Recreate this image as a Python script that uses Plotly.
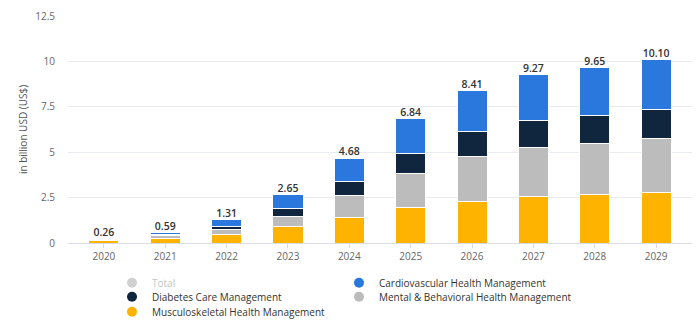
import plotly.graph_objects as go

years = ["2020", "2021", "2022", "2023", "2024", "2025", "2026", "2027", "2028", "2029"]
totals = [0.26, 0.59, 1.31, 2.65, 4.68, 6.84, 8.41, 9.27, 9.65, 10.10]
musculoskeletal = [0.12, 0.27, 0.49, 0.91, 1.41, 1.93, 2.31, 2.55, 2.66, 2.80]
mental = [0.05, 0.12, 0.24, 0.54, 1.19, 1.92, 2.44, 2.71, 2.80, 2.94]
diabetes = [0.03, 0.07, 0.20, 0.44, 0.79, 1.10, 1.39, 1.51, 1.58, 1.63]
cardio = [0.06, 0.13, 0.38, 0.76, 1.29, 1.89, 2.27, 2.50, 2.61, 2.73]
y_ticks = [0, 2.5, 5, 7.5, 10, 12.5]
y_tick_labels = ["0", "2.5", "5", "7.5", "10", "12.5"]

C_BLUE = "#2a78de"
C_NAVY = "#10263f"
C_GRAY = "#bcbcbc"
C_YELLOW = "#feb300"
C_TOTAL = "#d0d0d0"

FONT = "Open Sans"

fig = go.Figure()

series = [
    ("Musculoskeletal Health Management", musculoskeletal, C_YELLOW),
    ("Mental & Behavioral Health Management", mental, C_GRAY),
    ("Diabetes Care Management", diabetes, C_NAVY),
    ("Cardiovascular Health Management", cardio, C_BLUE),
]

for name, vals, col in series:
    fig.add_trace(go.Bar(
        x=years, y=vals, name=name, marker=dict(color=col, line=dict(color="white", width=1)),
        showlegend=False, legendgroup=name, hovertemplate="%{x}: %{y:.2f}<extra>" + name + "</extra>",
    ))

# total labels
fig.add_trace(go.Scatter(
    x=years, y=totals, mode="text", text=[f"{v:.2f}" for v in totals],
    textposition="top center", showlegend=False, hoverinfo="skip",
    textfont=dict(family=FONT, size=10.5, color="#333333", weight=600),
))

# legend entries (circle markers), one legend box per entry
# (name, colour, legend id, group, left px of text, row centre px)
legend_items = [
    ("<span style='color:#c4c4c4'>Total</span>", C_TOTAL, "legend", "Total", 150, 282.7),
    ("Cardiovascular Health Management", C_BLUE, "legend2", "Cardiovascular Health Management", 377, 282.7),
    ("Diabetes Care Management", C_NAVY, "legend3", "Diabetes Care Management", 150, 296.7),
    ("Mental & Behavioral Health Management", C_GRAY, "legend4", "Mental & Behavioral Health Management", 377, 296.7),
    ("Musculoskeletal Health Management", C_YELLOW, "legend5", "Musculoskeletal Health Management", 150, 311.7),
]
legend_layout = {}
for name, col, lg, grp, tx, ty in legend_items:
    fig.add_trace(go.Scatter(
        x=[None], y=[None], mode="markers", name=name, legend=lg, legendgroup=grp,
        marker=dict(color=col, size=10, symbol="circle"), hoverinfo="skip",
    ))
    legend_layout[lg] = dict(
        orientation="h", xref="container", yref="container", xanchor="left", yanchor="middle",
        x=(tx - 38) / 700, y=1 - ty / 328,
        font=dict(family=FONT, size=10, color="#333333"),
        bgcolor="rgba(0,0,0,0)", itemclick=False, itemdoubleclick=False,
    )

fig.update_layout(
    width=700, height=328,
    margin=dict(l=68, r=8, t=16, b=85, autoexpand=False),
    paper_bgcolor="white", plot_bgcolor="white",
    barmode="stack", bargap=0.51,
    font=dict(family=FONT, color="#666666", size=10),
    xaxis=dict(
        type="category", range=[-0.585, 9.585], showgrid=False,
        showline=True, linecolor="#d9dde3", linewidth=1,
        ticks="outside", ticklen=4, tickcolor="#d9dde3",
        tickfont=dict(family=FONT, size=10, color="#666666"),
    ),
    yaxis=dict(
        range=[0, 12.5], tickvals=y_ticks, ticktext=y_tick_labels,
        showgrid=True, gridcolor="#e8ebef", gridwidth=1, zeroline=False,
        tickfont=dict(family=FONT, size=10, color="#666666"), ticklabelstandoff=12,
        title=dict(text="in billion USD (US$)", font=dict(family=FONT, size=10, color="#555555"), standoff=5),
    ),
    **legend_layout,
)

fig.write_html("out.html")
